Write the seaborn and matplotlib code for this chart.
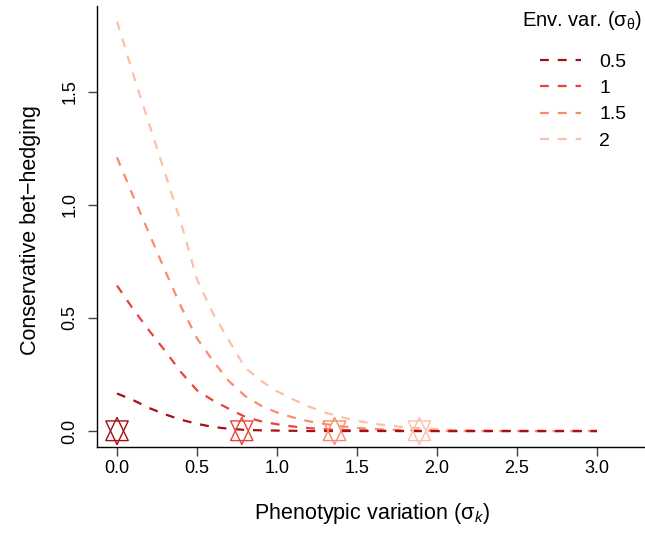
import numpy as np
import pandas as pd
import seaborn as sns
import matplotlib.pyplot as plt
from matplotlib.lines import Line2D

# phenotypic variation grid (sigma_k)
sigma_k = [0.0, 0.1, 0.2, 0.3, 0.4, 0.5, 0.6, 0.7, 0.8, 0.9, 1.0,
           1.1, 1.2, 1.3, 1.4, 1.5, 1.6, 1.7, 1.8, 1.9, 2.0,
           2.1, 2.2, 2.3, 2.4, 2.5, 2.6, 2.7, 2.8, 2.9, 3.0]

env_levels = ['0.5', '1', '1.5', '2']

# conservative bet-hedging for each environmental variance
cbh_05 = [0.166, 0.137, 0.102, 0.074, 0.050, 0.032, 0.018, 0.010, 0.005, 0.003, 0.002,
          0.001, 0, 0, 0, 0, 0, 0, 0, 0, 0,
          0, 0, 0, 0, 0, 0, 0, 0, 0, 0]
cbh_1 = [0.643, 0.540, 0.445, 0.355, 0.260, 0.180, 0.135, 0.098, 0.063, 0.043, 0.030,
         0.020, 0.013, 0.008, 0.005, 0.003, 0.002, 0.001, 0, 0, 0,
         0, 0, 0, 0, 0, 0, 0, 0, 0, 0]
cbh_15 = [1.21, 1.04, 0.875, 0.71, 0.55, 0.41, 0.31, 0.22, 0.155, 0.112, 0.082,
          0.060, 0.043, 0.031, 0.021, 0.014, 0.009, 0.006, 0.004, 0.002, 0.001,
          0, 0, 0, 0, 0, 0, 0, 0, 0, 0]
cbh_2 = [1.81, 1.58, 1.36, 1.14, 0.92, 0.67, 0.52, 0.40, 0.28, 0.222, 0.176,
         0.140, 0.108, 0.082, 0.062, 0.045, 0.033, 0.024, 0.017, 0.012, 0.008,
         0.005, 0.003, 0.002, 0.001, 0, 0, 0, 0, 0, 0]

# optimal phenotypic variation (star markers)
opt_sigma_k = [0.0, 0.78, 1.36, 1.89]
opt_cbh = [0.0, 0.0, 0.0, 0.0]

colors = ['#A50F15', '#E5463A', '#FB8B6E', '#FCC0A8']
palette = dict(zip(env_levels, colors))

df = pd.concat([
    pd.DataFrame({'sigma_k': sigma_k, 'cbh': vals, 'env': lev})
    for lev, vals in zip(env_levels, [cbh_05, cbh_1, cbh_15, cbh_2])
])
opt_df = pd.DataFrame({'sigma_k': opt_sigma_k, 'cbh': opt_cbh, 'env': env_levels})

sns.set_style('ticks')
plt.rcParams['font.family'] = ['Liberation Sans', 'DejaVu Sans']
plt.rcParams['mathtext.fontset'] = 'custom'
plt.rcParams['mathtext.rm'] = 'Liberation Sans'
plt.rcParams['mathtext.it'] = 'Liberation Sans:italic'
plt.rcParams['text.color'] = 'black'
plt.rcParams['axes.labelcolor'] = 'black'

fig = plt.figure(figsize=(6.45, 5.34), dpi=100)
ax = fig.add_axes([97 / 645, 87 / 534, 548 / 645, 441 / 534])

dash = (0, (4, 4))
sns.lineplot(data=df, x='sigma_k', y='cbh', hue='env', hue_order=env_levels[::-1],
             palette=palette, errorbar=None, legend=False, lw=1.6, linestyle=dash, ax=ax)

# hexagram = up triangle + down triangle
tri_up = [(0, 13.3), (-11, -9.4), (11, -9.4), (0, 13.3)]
tri_down = [(0, -13.3), (-11, 9.9), (11, 9.9), (0, -13.3)]
for tri in (tri_up, tri_down):
    sns.scatterplot(data=opt_df, x='sigma_k', y='cbh', hue='env', hue_order=env_levels,
                    palette=palette, marker=tri, s=19.5 ** 2, legend=False, ax=ax,
                    zorder=3, clip_on=False)
for coll in ax.collections:
    ec = coll.get_facecolors()
    coll.set_facecolor('none')
    coll.set_edgecolor(ec)
    coll.set_linewidth(1.0)

ax.set_xlim(-0.125, 3.3)
ax.set_ylim(-0.0706, 1.879)
ax.set_xticks([0, 0.5, 1.0, 1.5, 2.0, 2.5, 3.0])
ax.set_xticklabels(['0.0', '0.5', '1.0', '1.5', '2.0', '2.5', '3.0'])
ax.set_yticks([0, 0.5, 1.0, 1.5])
ax.set_yticklabels(['0.0', '0.5', '1.0', '1.5'], rotation=90, va='center')
ax.tick_params(axis='both', labelsize=13, length=6.5, width=1, color='#444444',
               labelcolor='black')
ax.tick_params(axis='x', pad=3)
ax.tick_params(axis='y', pad=7)
for s in ('left', 'bottom'):
    ax.spines[s].set_color('black')
    ax.spines[s].set_linewidth(1)
sns.despine(ax=ax)

ax.set_xlabel(r'Phenotypic variation ($\mathrm{\sigma}_k$)', fontsize=15.5)
ax.xaxis.set_label_coords((372 - 97) / 548, -0.122)
ax.set_ylabel('Conservative bet\u2212hedging', fontsize=15.5)
ax.yaxis.set_label_coords((41 - 97) / 548, 0.492)

# legend: title as separate text so the gap to the entries can be matched
fig.text(582 / 645, 1 - 20 / 534, r'Env. var. ($\mathrm{\sigma}_\mathrm{\theta}$)',
         ha='center', va='center', fontsize=14.5)
handles = [Line2D([], [], color=c, lw=1.6, linestyle=dash) for c in colors]
leg = fig.legend(handles, env_levels, loc='upper left',
                 bbox_to_anchor=(540 / 645, 1 - 53 / 534), frameon=False,
                 fontsize=14, handlelength=2.1, handletextpad=0.95,
                 labelspacing=0.45, borderpad=0, borderaxespad=0)

fig.savefig('out.png', dpi=100)
